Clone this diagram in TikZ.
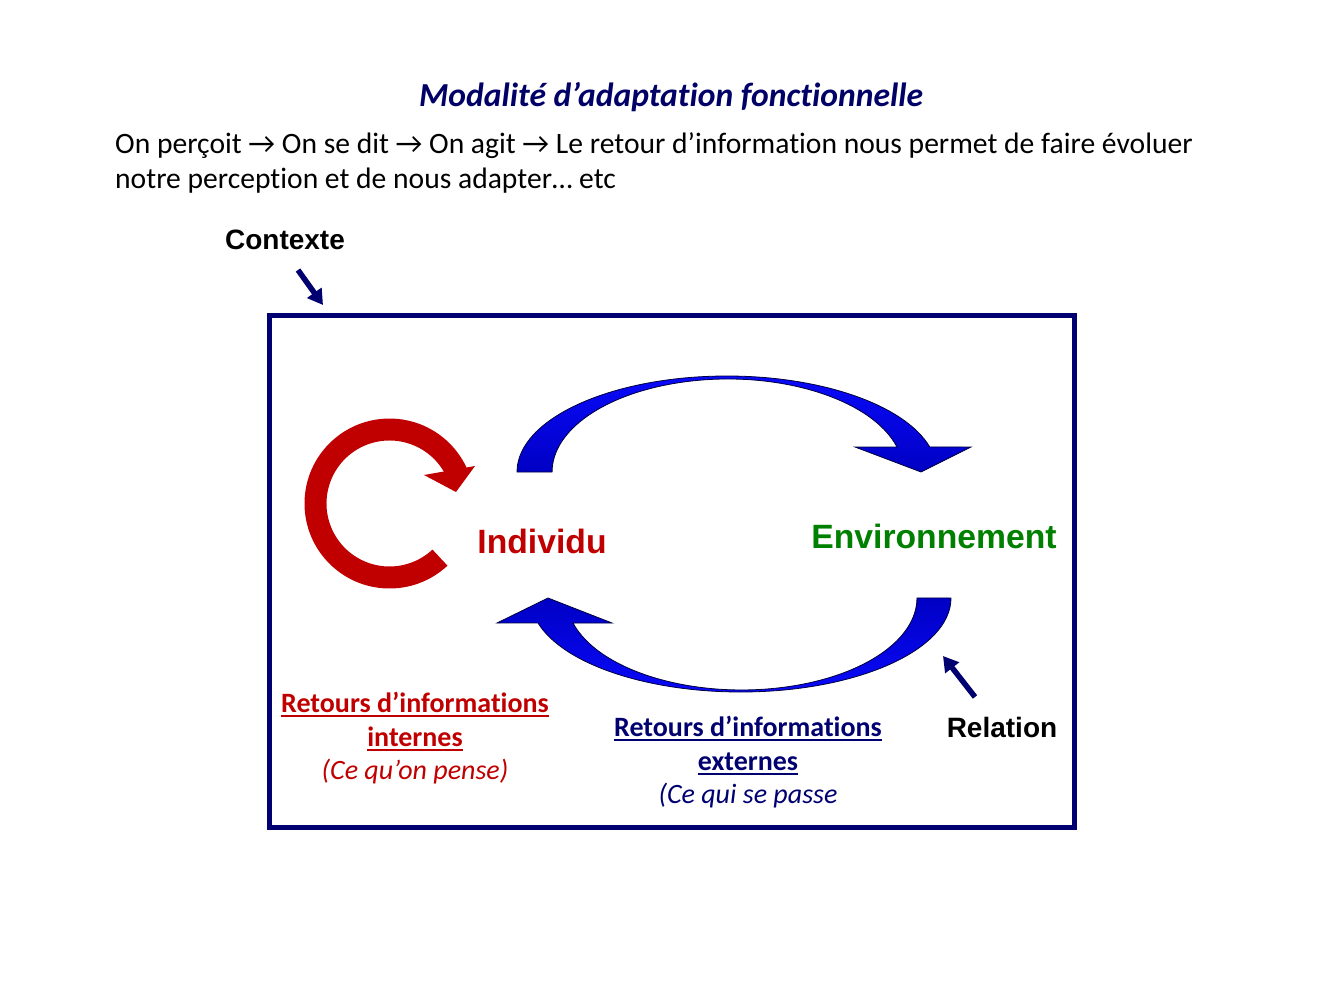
\documentclass[tikz,border=0pt]{standalone}
\usepackage{fontspec}
\setmainfont{Carlito}[Ligatures=NoCommon]
\newfontfamily\arialf{Liberation Sans}
\usetikzlibrary{arrows.meta,calc}
\definecolor{navy}{RGB}{0,0,112}
\definecolor{titlenavy}{RGB}{0,0,102}
\definecolor{dred}{RGB}{192,0,0}
\definecolor{dgreen}{RGB}{0,128,0}
\definecolor{bbright}{RGB}{10,10,255}
\definecolor{bdark}{RGB}{0,0,196}
\definecolor{boutline}{RGB}{0,0,60}
\newcommand{\rarr}{\iffontchar\font"2192 →\else{\arialf →}\fi}
\begin{document}
\begin{tikzpicture}[x=1pt,y=-1pt,
  bodytxt/.style={anchor=base west,inner sep=0pt,font=\fontsize{29.6}{35}\selectfont},
  arialbig/.style={anchor=base,inner sep=0pt,font=\arialf\bfseries\fontsize{33.7}{40}\selectfont},
  arialmid/.style={anchor=base,inner sep=0pt,font=\arialf\bfseries\fontsize{28}{34}\selectfont},
  lbl/.style={anchor=base,inner sep=0pt,font=\bfseries\fontsize{28}{34}\selectfont},
  lblit/.style={anchor=base,inner sep=0pt,font=\itshape\fontsize{28}{34}\selectfont},
  smallarrow/.style={draw=navy,line width=5.5pt,-{Triangle[length=15pt,width=17pt]}},
  bluearrow/.style={draw=boutline,line width=0.8pt}
]
\useasboundingbox (0,0) rectangle (1344,1008);

% title and introduction
\node[anchor=base,inner sep=0pt,font=\bfseries\itshape\fontsize{33.6}{40}\selectfont,text=titlenavy] (title) at (671,107) {Modalité d’adaptation fonctionnelle};
\node[bodytxt] (l1) at (115,154) {On perçoit \rarr{} On se dit \rarr{} On agit \rarr{} Le retour d’information nous permet de faire évoluer};
\node[bodytxt] (l2) at (115,189) {notre perception et de nous adapter… etc};

% context frame
\node[arialmid] (ctx) at (285,249.5) {Contexte};
\coordinate (ctxs) at (298,270);
\coordinate (ctxe) at (323,305);
\draw[smallarrow] (ctxs) -- (ctxe);
\draw[navy,line width=5pt] (269.5,315.5) rectangle (1074.5,827);

% red self-loop arrow
\coordinate (rc) at (389.5,503.5);
\fill[dred] ($(rc)+(47:85)$) arc[start angle=47,end angle=335,radius=85]
  -- ($(rc)+(335:63)$) arc[start angle=335,end angle=47,radius=63] -- cycle;
\fill[dred] (424,475) -- (475,466) -- (456,492) -- cycle;

% top blue arrow (Individu -> Environnement)
\shadedraw[bluearrow,top color=bbright,bottom color=bdark]
  (517,472) arc[start angle=180,end angle=344.9,x radius=210,y radius=96]
  -- (971,447) -- (921,472) -- (855,447) -- (897,447)
  arc[start angle=344.4,end angle=180,x radius=175.7,y radius=93] -- cycle;

% bottom blue arrow (Environnement -> Individu)
\shadedraw[bluearrow,top color=bdark,bottom color=bbright]
  (951,598) arc[start angle=0,end angle=164.6,x radius=210.3,y radius=94]
  -- (497,623) -- (548,598) -- (612,623) -- (573,623)
  arc[start angle=164.2,end angle=0,x radius=175.3,y radius=92] -- cycle;

% main labels
\node[arialbig,text=dred] (ind) at (542,553) {Individu};
\node[arialbig,text=dgreen] (env) at (934,548) {Environnement};
\node[arialmid] (rel) at (1002,737) {Relation};
\coordinate (rels) at (975,697);
\coordinate (rele) at (943,656);
\draw[smallarrow] (rels) -- (rele);

% internal feedback
\node[lbl,text=dred] (ri1) at (415,712) {Retours d’informations};
\node[lbl,text=dred] (ri2) at (415,746) {internes};
\node[lblit,text=dred] (ri3) at (415,779) {(Ce qu’on pense)};
\draw[dred,line width=2pt] ($(ri1.base west)+(0,3.5)$) -- ($(ri1.base east)+(0,3.5)$);
\draw[dred,line width=2pt] ($(ri2.base west)+(0,3.5)$) -- ($(ri2.base east)+(0,3.5)$);

% external feedback
\node[lbl,text=navy] (re1) at (748,736) {Retours d’informations};
\node[lbl,text=navy] (re2) at (748,770) {externes};
\node[lblit,text=navy] (re3) at (748,803) {(Ce qui se passe};
\draw[navy,line width=2pt] ($(re1.base west)+(0,3.5)$) -- ($(re1.base east)+(0,3.5)$);
\draw[navy,line width=2pt] ($(re2.base west)+(0,3.5)$) -- ($(re2.base east)+(0,3.5)$);
\end{tikzpicture}
\end{document}
